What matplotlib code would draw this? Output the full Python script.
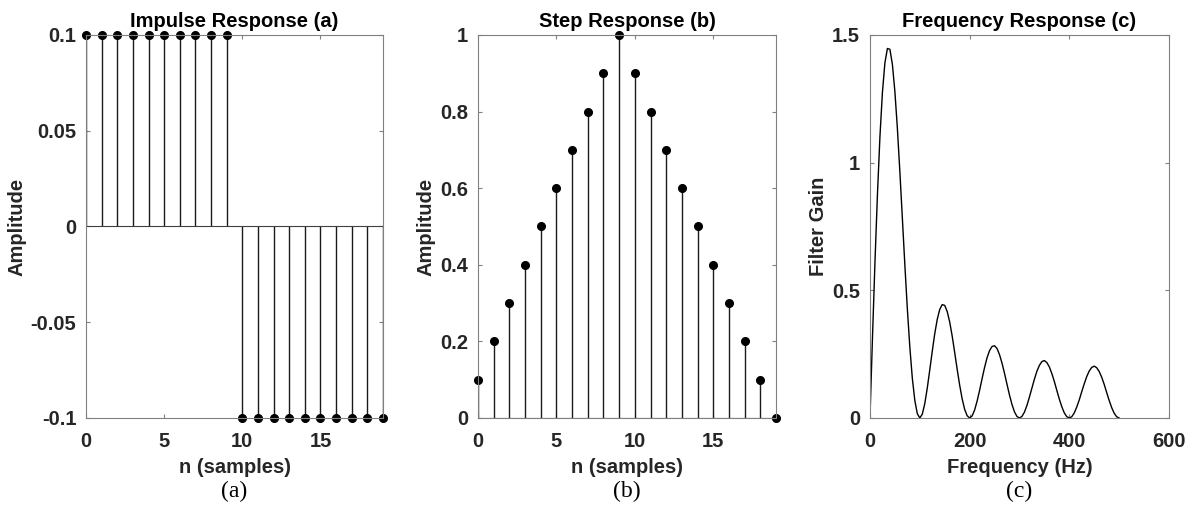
import numpy as np
import matplotlib
matplotlib.use("Agg")
import matplotlib.pyplot as plt
from matplotlib.ticker import FormatStrFormatter

# ── data ───────────────────────────────────────────────────────────────────
n_samples = list(range(20))
impulse = [0.1] * 10 + [-0.1] * 10
step = [0.1, 0.2, 0.3, 0.4, 0.5, 0.6, 0.7, 0.8, 0.9, 1.0,
        0.9, 0.8, 0.7, 0.6, 0.5, 0.4, 0.3, 0.2, 0.1, 0.0]

freq_hz = list(range(0, 505, 5))
gain = [0.0, 0.312, 0.608, 0.875, 1.101, 1.275, 1.391, 1.447, 1.444, 1.385,
        1.279, 1.135, 0.965, 0.783, 0.600, 0.428, 0.278, 0.156, 0.069, 0.017,
        0.0, 0.015, 0.056, 0.117, 0.188, 0.261, 0.330, 0.386, 0.425, 0.444,
        0.441, 0.417, 0.376, 0.321, 0.257, 0.191, 0.129, 0.075, 0.034, 0.009,
        0.0, 0.008, 0.031, 0.066, 0.108, 0.154, 0.198, 0.236, 0.264, 0.280,
        0.283, 0.272, 0.248, 0.215, 0.175, 0.132, 0.090, 0.053, 0.024, 0.006,
        0.0, 0.006, 0.023, 0.049, 0.082, 0.117, 0.152, 0.183, 0.206, 0.221,
        0.225, 0.217, 0.200, 0.174, 0.143, 0.108, 0.074, 0.044, 0.020, 0.005,
        0.0, 0.005, 0.020, 0.043, 0.071, 0.103, 0.134, 0.162, 0.184, 0.198,
        0.203, 0.197, 0.182, 0.160, 0.132, 0.100, 0.069, 0.041, 0.019, 0.005,
        0.0]

# ── style (MATLAB look) ───────────────────────────────────────────────────
plt.rcParams["font.family"] = ["Liberation Sans", "DejaVu Sans"]
plt.rcParams["font.weight"] = "bold"
plt.rcParams["axes.unicode_minus"] = False
AX_COL = "#262626"
GRID_COL = "#808080"
FS = 14.5


def style(ax):
    for s in ax.spines.values():
        s.set_color(GRID_COL)
        s.set_linewidth(0.8)
    ax.tick_params(direction="in", length=3, width=0.8, color=GRID_COL,
                   labelcolor=AX_COL, labelsize=FS, top=True, right=True)
    ax.tick_params(axis="x", pad=10)
    ax.tick_params(axis="y", pad=7)
    for lbl in ax.get_xticklabels() + ax.get_yticklabels():
        lbl.set_fontweight("bold")


def stem(ax, x, y):
    markers, stems, base = ax.stem(x, y, linefmt="-", markerfmt="o", basefmt="-")
    stems.set_color("#1a1a1a")
    stems.set_linewidth(1.0)
    markers.set_color("black")
    markers.set_markersize(5.5)
    markers.set_clip_on(False)
    base.set_color("#404040")
    base.set_linewidth(0.8)
    base.set_xdata([0, 19])


fig = plt.figure(figsize=(11.95, 5.09), dpi=100)
ax1 = fig.add_axes([0.0720, 0.1788, 0.2485, 0.7525])
ax2 = fig.add_axes([0.4000, 0.1788, 0.2494, 0.7525])
ax3 = fig.add_axes([0.7280, 0.1788, 0.2502, 0.7525])

# (a) impulse
stem(ax1, n_samples, impulse)
ax1.set_xlim(0, 19)
ax1.set_ylim(-0.1, 0.1)
ax1.set_xticks([0, 5, 10, 15])
ax1.set_yticks([-0.1, -0.05, 0, 0.05, 0.1])
ax1.yaxis.set_major_formatter(FormatStrFormatter("%g"))
ax1.set_title("Impulse Response (a)", fontsize=FS, fontweight="bold",
              color="black", pad=6)
ax1.set_xlabel("n (samples)", fontsize=FS, fontweight="bold", color=AX_COL)
ax1.set_ylabel("Amplitude", fontsize=FS, fontweight="bold", color=AX_COL)
ax1.yaxis.set_label_coords(-0.199, 0.5)

# (b) step
stem(ax2, n_samples, step)
ax2.set_xlim(0, 19)
ax2.set_ylim(0, 1)
ax2.set_xticks([0, 5, 10, 15])
ax2.set_yticks([0, 0.2, 0.4, 0.6, 0.8, 1])
ax2.yaxis.set_major_formatter(FormatStrFormatter("%g"))
ax2.set_title("Step Response (b)", fontsize=FS, fontweight="bold",
              color="black", pad=6)
ax2.set_xlabel("n (samples)", fontsize=FS, fontweight="bold", color=AX_COL)
ax2.set_ylabel("Amplitude", fontsize=FS, fontweight="bold", color=AX_COL)
ax2.yaxis.set_label_coords(-0.144, 0.5)

# (c) frequency response
ax3.plot(freq_hz, gain, color="black", linewidth=1.0)
ax3.set_xlim(0, 600)
ax3.set_ylim(0, 1.5)
ax3.set_xticks([0, 200, 400, 600])
ax3.set_yticks([0, 0.5, 1, 1.5])
ax3.yaxis.set_major_formatter(FormatStrFormatter("%g"))
ax3.set_title("Frequency Response (c)", fontsize=FS, fontweight="bold",
              color="black", pad=6)
ax3.set_xlabel("Frequency (Hz)", fontsize=FS, fontweight="bold", color=AX_COL)
ax3.set_ylabel("Filter Gain", fontsize=FS, fontweight="bold", color=AX_COL)
ax3.yaxis.set_label_coords(-0.140, 0.5)

for ax, cap in [(ax1, "(a)"), (ax2, "(b)"), (ax3, "(c)")]:
    style(ax)
    ax.xaxis.set_label_coords(0.5, -0.105)
    ax.text(0.5, -0.165, cap, transform=ax.transAxes, ha="center", va="top",
            fontsize=17, fontweight="normal", family="Liberation Serif")

fig.savefig("out.png", dpi=100)
